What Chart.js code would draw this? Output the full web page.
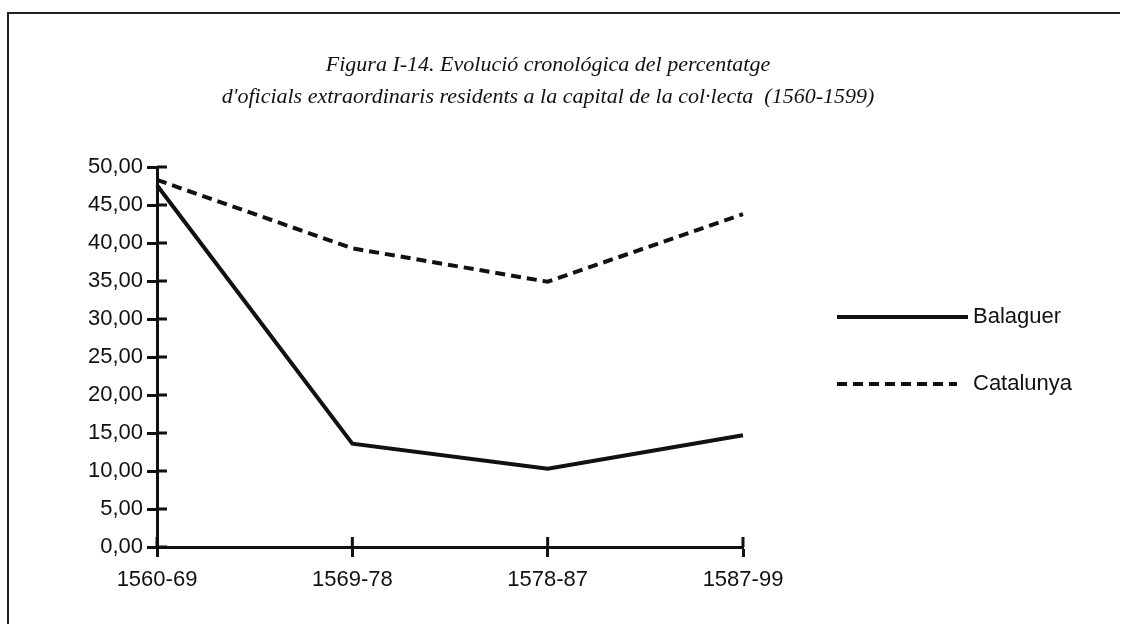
<!DOCTYPE html>
<html>
<head>
<meta charset="utf-8">
<script src="https://cdn.jsdelivr.net/npm/chart.js@4"></script>
<style>
  body { margin: 0; background: #fff; }
  canvas { display: block; }
</style>
</head>
<body>
<canvas id="evolucioChart" width="1125" height="624"></canvas>
<script>
var periodLabels = ['1560-69', '1569-78', '1578-87', '1587-99'];
var balaguerData = [47.6, 13.6, 10.3, 14.7];
var catalunyaData = [48.3, 39.3, 34.9, 43.8];
var titleLines = [
     'Figura I-14. Evolució cronológica del percentatge',
     "d'oficials extraordinaris residents a la capital de la col·lecta  (1560-1599)"
];

// frame, title, inside halves of the ticks and the legend
var paperPlugin = {
     id: 'paper',
     beforeDraw: function(chart) {
          var ctx = chart.ctx;
          ctx.save();
          ctx.fillStyle = '#fff';
          ctx.fillRect(0, 0, chart.width, chart.height);
          ctx.strokeStyle = '#222';
          ctx.lineWidth = 2;
          ctx.beginPath();
          ctx.moveTo(1120, 13);
          ctx.lineTo(8, 13);
          ctx.lineTo(8, 624);
          ctx.stroke();

          ctx.fillStyle = '#111';
          ctx.font = 'italic 22px "Liberation Serif", "DejaVu Serif", serif';
          ctx.textAlign = 'center';
          ctx.textBaseline = 'middle';
          ctx.fillText(titleLines[0], 548, 65);
          ctx.fillText(titleLines[1], 548, 97);
          ctx.restore();
     },
     afterDraw: function(chart) {
          var ctx = chart.ctx;
          var xs = chart.scales.x, ys = chart.scales.y;
          ctx.save();
          ctx.strokeStyle = '#111';
          ctx.lineWidth = 3;
          ctx.beginPath();
          ys.ticks.forEach(function(t) {
               var py = ys.getPixelForValue(t.value);
               ctx.moveTo(xs.left, py);
               ctx.lineTo(xs.left + 10, py);
          });
          periodLabels.forEach(function(l, i) {
               var px = xs.getPixelForValue(i);
               ctx.moveTo(px, ys.bottom);
               ctx.lineTo(px, ys.bottom - 10);
          });
          ctx.stroke();

          // legend
          ctx.font = '22px "Liberation Sans", Arial, sans-serif';
          ctx.textBaseline = 'middle';
          ctx.textAlign = 'left';
          ctx.fillStyle = '#111';
          var legendY = [317, 384];
          chart.data.datasets.forEach(function(ds, i) {
               ctx.lineWidth = ds.borderWidth;
               ctx.strokeStyle = ds.borderColor;
               ctx.setLineDash(ds.borderDash || []);
               ctx.beginPath();
               ctx.moveTo(837, legendY[i]);
               ctx.lineTo(i == 0 ? 968 : 957, legendY[i]);
               ctx.stroke();
               ctx.setLineDash([]);
               ctx.fillText(ds.label, 973, legendY[i]);
          });
          ctx.restore();
     }
};

const ctx = document.getElementById('evolucioChart').getContext('2d');

new Chart(ctx, {
     type: 'line',
     data: {
          labels: periodLabels,
          datasets: [
               {
                    label: 'Balaguer',
                    data: balaguerData,
                    borderColor: '#111',
                    borderWidth: 4,
                    pointRadius: 0,
                    tension: 0,
                    fill: false
               },
               {
                    label: 'Catalunya',
                    data: catalunyaData,
                    borderColor: '#111',
                    borderWidth: 4,
                    borderDash: [10, 6],
                    pointRadius: 0,
                    tension: 0,
                    fill: false
               }
          ]
     },
     options: {
          responsive: false,
          animation: false,
          layout: {
               padding: { left: 8, right: 382, top: 167, bottom: 0 }
          },
          plugins: {
               legend: false,
               title: { display: false },
               tooltip: { enabled: false }
          },
          scales: {
               y: {
                    min: 0,
                    max: 50,
                    afterFit: function(scale) { scale.width = 149; },
                    ticks: {
                         stepSize: 5,
                         padding: 4,
                         color: '#111',
                         font: { family: '"Liberation Sans", Arial, sans-serif', size: 22 },
                         callback: function(v) { return v.toFixed(2).replace('.', ','); }
                    },
                    grid: {
                         drawOnChartArea: false,
                         tickLength: 10,
                         tickWidth: 3,
                         tickColor: '#111'
                    },
                    border: { color: '#111', width: 3 }
               },
               x: {
                    offset: false,
                    afterFit: function(scale) { scale.height = 77; },
                    ticks: {
                         padding: 10,
                         maxRotation: 0,
                         color: '#111',
                         font: { family: '"Liberation Sans", Arial, sans-serif', size: 22 }
                    },
                    grid: {
                         drawOnChartArea: false,
                         tickLength: 10,
                         tickWidth: 3,
                         tickColor: '#111'
                    },
                    border: { color: '#111', width: 3 }
               }
          }
     },
     plugins: [paperPlugin]
});
</script>
</body>
</html>
